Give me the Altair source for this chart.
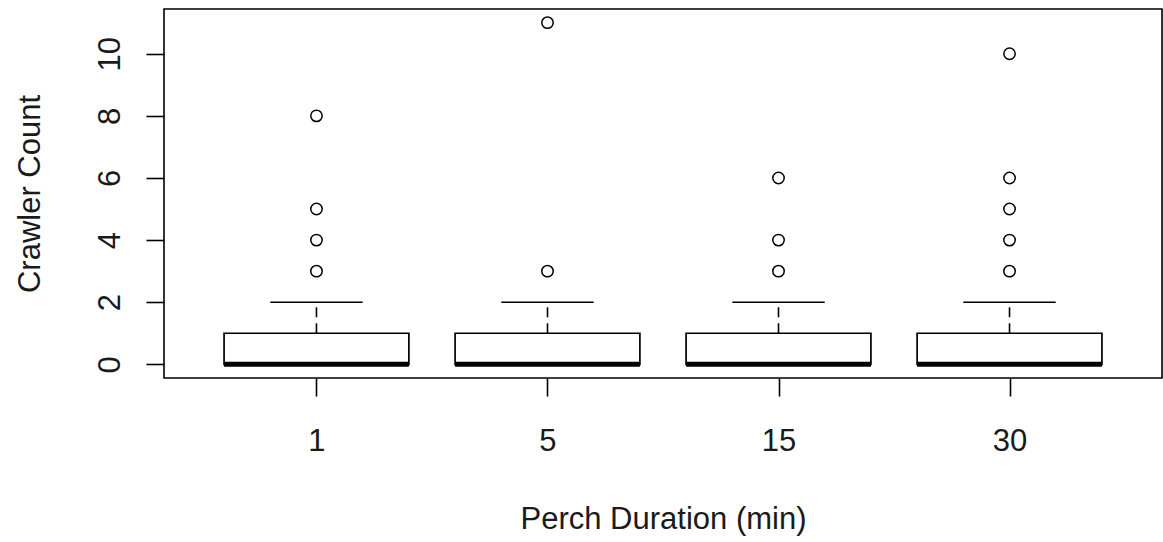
import json
import altair as alt
import pandas as pd

# ---- data ----
durations = ["1", "5", "15", "30"]
q1 = [0, 0, 0, 0]
medians = [0, 0, 0, 0]
q3 = [1, 1, 1, 1]
whisker_low = [0, 0, 0, 0]
whisker_high = [2, 2, 2, 2]
outliers_1 = [3, 4, 5, 8]
outliers_5 = [3, 11]
outliers_15 = [3, 4, 6]
outliers_30 = [3, 4, 5, 6, 10]

y_ticks = [0, 2, 4, 6, 8, 10]
y_domain = [-0.44, 11.44]
x_domain = [0.34, 4.66]

positions = list(range(1, len(durations) + 1))
stats = pd.DataFrame({
    "duration": durations,
    "pos": positions,
    "q1": q1,
    "median": medians,
    "q3": q3,
    "wlo": whisker_low,
    "whi": whisker_high,
})

out_lists = [outliers_1, outliers_5, outliers_15, outliers_30]
outs = pd.DataFrame(
    [{"duration": d, "pos": p, "value": v}
     for d, p, lst in zip(durations, positions, out_lists) for v in lst]
)

FONT = "Liberation Sans"
FS = 31
TXT = "#1a1a1a"
LW = 1.6
W, H = 998, 369

x_scale = alt.Scale(domain=x_domain, nice=False, zero=False)
y_scale = alt.Scale(domain=y_domain, nice=False, zero=False)

x_axis = alt.Axis(
    values=positions,
    labelExpr=json.dumps(durations) + "[datum.value - 1]",
    title="Perch Duration (min)",
    grid=False, domain=False,
    tickSize=18, tickColor="black", tickWidth=LW,
    labelFont=FONT, labelFontSize=FS, labelColor=TXT,
    labelBaseline="alphabetic", labelPadding=54,
    labelOverlap=False, labelFlush=False,
    titleFont=FONT, titleFontSize=FS, titleFontWeight="normal", titleColor=TXT,
    titleX=W / 2, titleY=150, titleAlign="center", titleBaseline="alphabetic",
)
y_axis = alt.Axis(
    values=y_ticks,
    title="Crawler Count",
    grid=False, domain=False,
    tickSize=18, tickColor="black", tickWidth=LW,
    labelFont=FONT, labelFontSize=FS, labelColor=TXT,
    labelAngle=270, labelAlign="center", labelBaseline="alphabetic",
    labelPadding=27, labelOverlap=False, labelFlush=False,
    titleFont=FONT, titleFontSize=FS, titleFontWeight="normal", titleColor=TXT,
    titleAngle=270, titleX=-125, titleY=H / 2, titleAlign="center",
    titleBaseline="alphabetic",
)

base = alt.Chart(stats).transform_calculate(
    box_lo="datum.pos - 0.4",
    box_hi="datum.pos + 0.4",
    st_lo="datum.pos - 0.2",
    st_hi="datum.pos + 0.2",
)

whisk_up = base.mark_rule(color="black", strokeWidth=LW, strokeDash=[10, 6]).encode(
    x=alt.X("pos:Q", scale=x_scale, axis=x_axis),
    y=alt.Y("q3:Q", scale=y_scale, axis=y_axis),
    y2="whi:Q",
)
whisk_dn = base.mark_rule(color="black", strokeWidth=LW, strokeDash=[10, 6]).encode(
    x=alt.X("pos:Q", scale=x_scale),
    y=alt.Y("q1:Q", scale=y_scale),
    y2="wlo:Q",
)
staple_up = base.mark_rule(color="black", strokeWidth=LW).encode(
    x=alt.X("st_lo:Q", scale=x_scale),
    x2="st_hi:Q",
    y=alt.Y("whi:Q", scale=y_scale),
)
staple_dn = base.mark_rule(color="black", strokeWidth=LW).encode(
    x=alt.X("st_lo:Q", scale=x_scale),
    x2="st_hi:Q",
    y=alt.Y("wlo:Q", scale=y_scale),
)
boxes = base.mark_rect(fill="white", stroke="black", strokeWidth=1.7).encode(
    x=alt.X("box_lo:Q", scale=x_scale),
    x2="box_hi:Q",
    y=alt.Y("q1:Q", scale=y_scale),
    y2="q3:Q",
)
med = base.mark_rule(color="black", strokeWidth=5, strokeCap="butt").encode(
    x=alt.X("box_lo:Q", scale=x_scale),
    x2="box_hi:Q",
    y=alt.Y("median:Q", scale=y_scale),
)
points = alt.Chart(outs).mark_point(
    shape="circle", filled=False, color="black", size=130, strokeWidth=1.5, opacity=1
).encode(
    x=alt.X("pos:Q", scale=x_scale),
    y=alt.Y("value:Q", scale=y_scale),
)

chart = alt.layer(whisk_up, whisk_dn, staple_up, staple_dn, boxes, med, points).properties(
    width=W,
    height=H,
    autosize=alt.AutoSizeParams(type="none"),
    padding={"left": 164, "top": 9, "right": 1, "bottom": 164},
    background="white",
).configure_view(stroke="black", strokeWidth=1.6)

chart.save("out.html", embed_options={"renderer": "svg", "actions": False})
